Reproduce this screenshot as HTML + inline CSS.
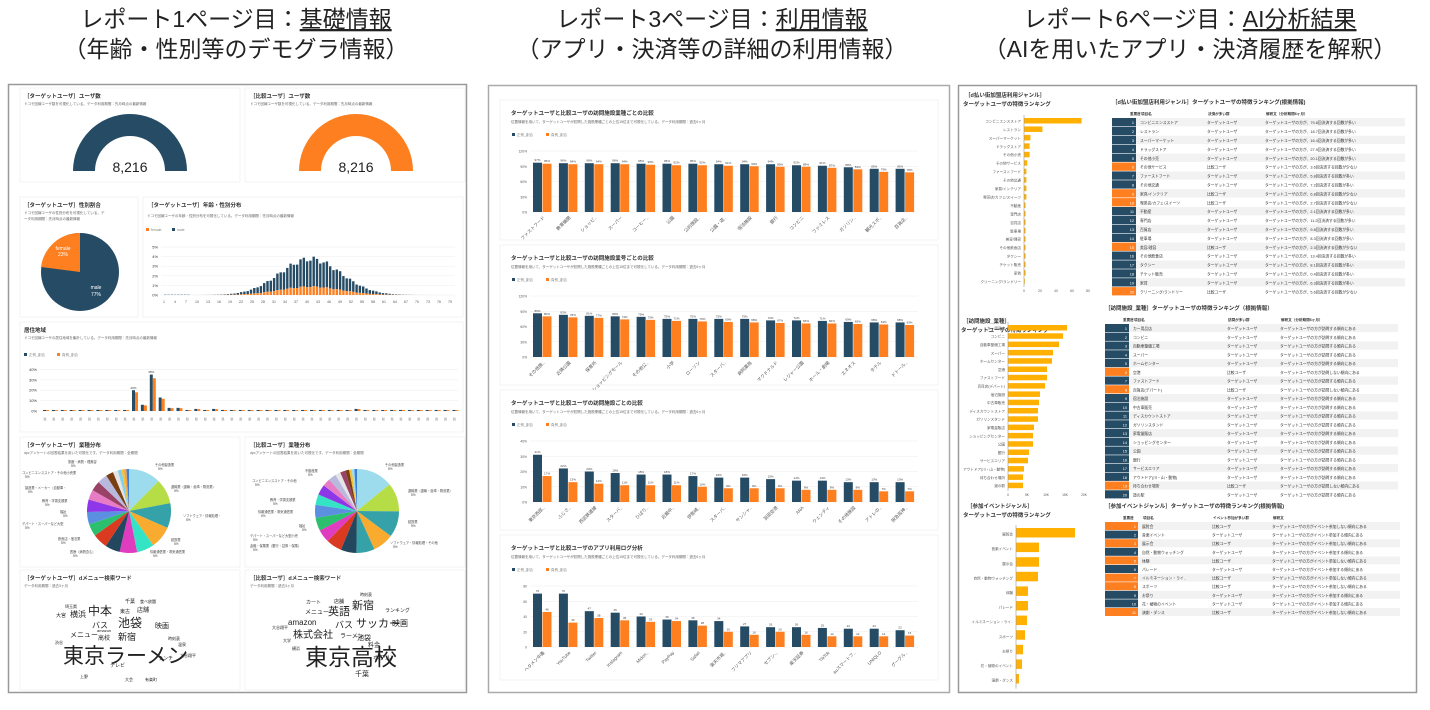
<!DOCTYPE html>
<html><head><meta charset="utf-8">
<style>
body{margin:0;background:#fff;width:1430px;height:705px;overflow:hidden;font-family:"Liberation Sans","Noto Sans CJK JP",sans-serif}
svg text{font-family:"Liberation Sans","Noto Sans CJK JP",sans-serif}
</style></head><body>
<svg id="s" width="1430" height="705" xmlns="http://www.w3.org/2000/svg">
<g font-size="23" fill="#222" text-anchor="middle">
<text x="236" y="27">レポート1ページ目：<tspan text-decoration="underline">基礎情報</tspan></text>
<text x="236" y="57">（年齢・性別等のデモグラ情報）</text>
<text x="712" y="27">レポート3ページ目：<tspan text-decoration="underline">利用情報</tspan></text>
<text x="712" y="57">（アプリ・決済等の詳細の利用情報）</text>
<text x="1190" y="27">レポート6ページ目：<tspan text-decoration="underline">AI分析結果</tspan></text>
<text x="1190" y="57">（AIを用いたアプリ・決済履歴を解釈）</text>
</g>
<rect x="8.5" y="84.5" width="458" height="608" fill="#fff" stroke="#999" stroke-width="1.5"/>
<rect x="488.5" y="85.5" width="461" height="607" fill="#fff" stroke="#aaa" stroke-width="1.5"/>
<rect x="958.5" y="85.5" width="458" height="607" fill="#fff" stroke="#999" stroke-width="1.5"/>
<g id="g"></g>
</svg>
<script>
var g=document.getElementById('g'),h='';
var N='#264b65',O='#fd7f20',Y='#ffb000';
function r(x,y,w,hh,c,st){h+='<rect x="'+x+'" y="'+y+'" width="'+w+'" height="'+hh+'" fill="'+c+'"'+(st?' stroke="'+st+'" stroke-width="0.7"':'')+'/>';}
function t(x,y,s,sz,c,a,b){h+='<text x="'+x+'" y="'+y+'" font-size="'+sz+'" fill="'+(c||'#333')+'"'+(a?' text-anchor="'+a+'"':'')+(b?' font-weight="bold"':'')+'>'+s+'</text>';}
[[20,88,220,94],[245,88,220,94],[20,197,118,120],[143,197,320,120],[20,322,443,110],[20,437,220,130],[245,437,220,130],[20,570,220,120],[245,570,220,120]].forEach(function(c){r(c[0],c[1],c[2],c[3],'#fff','#eee');});
t(24,98,'［ターゲットユーザ］ユーザ数',5.5,'#333',0,1);t(250,98,'［比較ユーザ］ユーザ数',5.5,'#333',0,1);
t(24,105,'ドコモ回線ユーザ数を可視化している。データ利用期間：先月時点の最新情報',3.5,'#666');t(250,105,'ドコモ回線ユーザ数を可視化している。データ利用期間：先月時点の最新情報',3.5,'#666');
function gauge(cx,cy,c){h+='<path d="M'+(cx-57)+' '+cy+' A57 57 0 0 1 '+(cx+57)+' '+cy+' L'+(cx+35)+' '+cy+' A35 35 0 0 0 '+(cx-35)+' '+cy+'Z" fill="'+c+'"/>';}
gauge(130,171,N);gauge(356,171,O);
t(130,172,'8,216',14,'#222','middle');t(356,172,'8,216',14,'#222','middle');
t(24,207,'［ターゲットユーザ］性別割合',5.5,'#333',0,1);t(24,214,'ドコモ回線ユーザの性別分布を可視化している。デ',3.5,'#666');t(24,220,'ータ利用期間：先月時点の最新情報',3.5,'#666');
h+='<circle cx="80" cy="272" r="39" fill="'+N+'"/><path d="M80 272 L80 233 A39 39 0 0 0 41 267Z" fill="'+O+'"/>';
t(63,250,'female',5,'#fff','middle');t(63,256,'23%',5,'#fff','middle');t(96,289,'male',5,'#fff','middle');t(96,296,'77%',5,'#fff','middle');
t(148,207,'［ターゲットユーザ］年齢・性別分布',5.5,'#333',0,1);t(147,217,'ドコモ回線ユーザの年齢・性別分布を可視化している。データ利用期間：先月時点の最新情報',3.5,'#666');
r(146,228,3,3,O);t(151,231,'female',3.5,'#888');r(172,228,3,3,N);t(177,231,'male',3.5,'#888');
for(var i=0;i<6;i++){var yy=295-i*9.6;h+='<line x1="161" x2="455" y1="'+yy+'" y2="'+yy+'" stroke="#eee" stroke-width="0.5"/>';t(158,yy+1.5,i+'%',4,'#333','end');}
for(var i=0;i<88;i++){var x=164+i*3.3,m=Math.exp(-Math.pow((i-44)/13,2))*36*(1+0.08*Math.sin(i*1.7)),f=m*0.23;if(i<8)m=0.3;r(x,295-m,2.4,m-f,N);r(x,295-f,2.4,f,O);}
for(var i=0;i<27;i++)t(164+i*11,303,String(1+i*3),3.5,'#555','middle');
t(24,332,'居住地域',5.5,'#333',0,1);t(24,339,'ドコモ回線ユーザの居住地域を集計している。データ利用期間：先月時点の最新情報',3.5,'#666');
r(24,353,3,3,N);t(29,356,'正例_割合',3.5,'#888');r(57,353,3,3,O);t(62,356,'負例_割合',3.5,'#888');
for(var i=0;i<5;i++){var yy=411-i*10.4;h+='<line x1="40" x2="458" y1="'+yy+'" y2="'+yy+'" stroke="#eee" stroke-width="0.5"/>';t(37,yy+1.5,(i*10)+'%',4,'#333','end');}
var rv=[1,1,1,1,1,1,1,1,1,1,20,6,35,13,3,3,1,2,1,2,1,1,1,1,1,1,1,1,1,1,1,1,1,1,1,2,1,1,1,1,1,1,1,1,1,1,1];
rv.forEach(function(v,i){var x=43+i*8.9;r(x,411-v*1.04,3,v*1.04,N);r(x+3,411-v*0.9*1.04,3,v*0.9*1.04,O);});
t(44.5+10*8.9,411-22,'20%',3,'#333','middle');t(44.5+12*8.9,411-38,'35%',3,'#333','middle');
for(var i=0;i<47;i++)t(45+i*8.9,420,'県',3,'#777','middle');
function pie(cx,cy,R,vals,cols){var a=-Math.PI/2,s=vals.reduce(function(p,q){return p+q},0);vals.forEach(function(v,i){var b=a+v/s*2*Math.PI;h+='<path d="M'+cx+' '+cy+' L'+(cx+R*Math.cos(a))+' '+(cy+R*Math.sin(a))+' A'+R+' '+R+' 0 '+((b-a)>Math.PI?1:0)+' 1 '+(cx+R*Math.cos(b))+' '+(cy+R*Math.sin(b))+'Z" fill="'+cols[i%cols.length]+'"/>';a=b;});}
var pc=['#9ddcec','#b6dd45','#35a1a8','#f9ab2f','#35e4c4','#e03cbf','#23475e','#d93a20','#2bbf6e','#5b8fe0','#8d37e8','#e77bc4','#9a4266','#b9b9dd','#7a3e13','#e5e5e5','#7ed0f0','#f2c230','#f0a050','#3a7fd9'];
t(24,447,'［ターゲットユーザ］業種分布',5.5,'#333',0,1);t(24,454,'dpcアンケートの回答結果を用いた可視化です。データ利用期間：全期間',3.5,'#666');
pie(129,511,42,[13,10,10,9,7,7,6,6,5,5,5,4,4,4,3,2,1.5,1,1,1],pc);
t(250,447,'［比較ユーザ］業種分布',5.5,'#333',0,1);t(250,454,'dpcアンケートの回答結果を用いた可視化です。データ利用期間：全期間',3.5,'#666');
pie(357,511,42,[14,11,10,8,7,6,6,5,5,5,4,4,3,3,2,2,1.5,1,1,1],pc.slice(0,3).concat(['#f9ab2f','#35a1a8','#23475e','#d93a20','#e03cbf','#2bbf6e','#5b8fe0','#35e4c4','#8d37e8','#e77bc4','#b9b9dd','#e5e5e5','#9a4266','#7a3e13','#f2c230','#9ddcec','#3a7fd9']));
[['その他製造業',155,466],['運輸業（運輸・倉庫・物流業）',171,488],['ソフトウェア・情報処理・',183,517],['建設業',171,541],['情報通信業・電気通信業',150,553],['医療（病院含む）',70,553],['飲食店・宿泊業',58,540],['デパート・スーパーなど大型',22,525],['福祉',60,513],['教育・学習支援業',42,502],['製造業・メーカー（自動車・',25,489],['コンビニエンスストア・その他小売業',22,474],['旅館・病院・理美容',68,463]].forEach(function(a){t(a[1],a[2],a[0],3.2,'#444');t(a[1]+3,a[2]+4,'5%',3.2,'#444');});
[['その他製造業',385,466],['運輸業（運輸・倉庫・物流業）',408,492],['建設業',408,523],['ソフトウェア・情報処理・その他',390,544],['金融・保険業（銀行・証券・保険）',250,547],['デパート・スーパーなど大型小売',250,537],['福祉',299,527],['情報通信業・電気通信業',258,513],['教育・学習支援業',270,501],['コンビニエンスストア・その他',252,482],['不動産業',305,472]].forEach(function(a){t(a[1],a[2],a[0],3.2,'#444');t(a[1]+3,a[2]+4,'5%',3.2,'#444');});
t(24,580,'［ターゲットユーザ］dメニュー検索ワード',5.5,'#333',0,1);t(24,587,'データ利用期間：過去3ヶ月',3.5,'#666');
t(250,580,'［比較ユーザ］dメニュー検索ワード',5.5,'#333',0,1);t(250,587,'データ利用期間：過去3ヶ月',3.5,'#666');
[['東京ラーメン',63,663,21],['池袋',118,627,12],['中本',88,615,12],['新宿',118,640,9],['横浜',70,617,8],['バス',92,628,8],['映画',155,628,7],['店舗',137,612,6],['高校',98,640,6],['メニュー',70,637,7],['東古',120,613,5],['千葉',125,603,5],['食べ放題',140,603,4],['大宮',56,617,5],['渋谷',55,644,4],['時刻表',168,640,4],['温泉',178,646,4],['ランチ',158,660,5],['テレビ',110,667,5],['大谷翔平',180,657,4],['上野',80,678,4],['大会',125,681,4],['有楽町',145,681,4],['埼玉県',65,608,4],['amazon',97,632,4]].forEach(function(a){t(a[1],a[2],a[0],a[3],'#222');});
[['東京高校',305,665,23],['サッカー',356,627,11],['英語',328,615,11],['新宿',352,609,11],['株式会社',293,638,10],['amazon',288,625,8],['映画',392,626,8],['バス',335,628,9],['池袋',357,640,7],['ラーメン',340,638,6],['カート',306,604,5],['千葉',355,676,7],['メニュー',305,614,6],['店舗',334,603,5],['ホテル',373,660,6],['料金',368,647,6],['時刻表',360,596,4],['ランキング',385,612,5],['大谷翔平',272,629,4],['大学',283,642,4],['横浜',292,650,4]].forEach(function(a){t(a[1],a[2],a[0],a[3],'#222');});
var lb1=['ファストフード','教育機関','ショッピ..','スーパー','コーヒー..','公園','公的施設..','公園・遊..','宿泊施設','銀行','コンビニ','ファミレス','ガソリン..','観光スポ..','百貨店..'];
var lb2=['その他施..','近隣公園','保育所','ショッピングモール','その他公..','小学','ローソン','スターバ..','病院薬局','マクドナルド','レジャー公園','ホール・劇場','エネオス','ホテル','ドトール..'];
var lb3=['東京西部..','ふじさ..','西武鉄道線','スターバ..','ひばり..','近畿中..','伊勢崎..','スターバ..','サンシャ..','羽田空港','ANA','ウェンディ','その他施設','アトレの..','阪急阪神..'];
var lb4=['ヘタメン中毒','YouTube','Twitter','Instagram','Midori..','PayPay','Safari','楽天市場..','フリマアプリ','セブン-..','楽天証券','TikTok','auスマートフ..','UNIQLO','グーグル..'];
var C=[[100,'ターゲットユーザと比較ユーザの訪問施設業種ごとの比較',[97,96,96,96,95,95,95,94,94,94,92,91,88,85,85],[95,94,94,94,93,92,92,91,90,89,89,87,84,79,78],lb1,120],
[245,'ターゲットユーザと比較ユーザの訪問施設業号ごとの比較',[86,83,81,80,79,75,75,75,75,72,72,71,69,68,68],[80,78,77,74,73,71,70,69,68,67,66,66,65,64,63],lb2,120],
[390,'ターゲットユーザと比較ユーザの訪問施設ごとの比較',[31,22,20,19,18,18,17,16,16,15,14,14,13,13,13],[17,13,12,11,11,11,10,9,9,9,8,8,8,7,7],lb3,40],
[535,'ターゲットユーザと比較ユーザのアプリ利用ログ分析',[70,70,47,45,40,36,35,34,27,26,26,25,24,24,22],[46,32,38,35,33,34,28,20,16,20,16,14,14,14,15],lb4,80]];
C.forEach(function(c){var y0=c[0],mx=c[5],lb=c[4];r(500,y0,438,y0==535?145:140,'#fff','#eee');t(511,y0+15,c[1],5.5,'#333',0,1);t(511,y0+23,'位置情報を用いて、ターゲットユーザが訪問した施設業種ごとの上位15位まで可視化している。データ利用期間：過去6ヶ月',3.5,'#666');
r(512,y0+33,3,3,N);t(517,y0+36,'正例_割合',3.5,'#888');r(546,y0+33,3,3,O);t(551,y0+36,'負例_割合',3.5,'#888');
var base=y0+112,H=61;for(var i=0;i<=4;i++){var yy=base-i*H/4;h+='<line x1="530" x2="918" y1="'+yy+'" y2="'+yy+'" stroke="#eee" stroke-width="0.5"/>';t(527,yy+1.5,Math.round(mx*i/4)+(mx==80?'':'%'),3.3,'#555','end');}
for(var i=0;i<15;i++){var x=533+i*25.9,a=c[2][i]*H/mx,b=c[3][i]*H/mx;r(x,base-a,9,a,N);r(x+9.5,base-b,9,b,O);t(x+4.5,base-a-1.5,c[2][i]+(mx==80?'':'%'),3,'#444','middle');t(x+14,base-b-1.5,c[3][i]+(mx==80?'':'%'),3,'#444','middle');
h+='<text x="'+(x+12)+'" y="'+(base+6)+'" font-size="4.5" fill="#555" text-anchor="end" transform="rotate(-45 '+(x+12)+' '+(base+6)+')">'+lb[i]+'</text>';}});
function hbar(x0,y0,pitch,labs,vals,scale,bh){labs.forEach(function(l,i){var y=y0+i*pitch;t(x0-3,y+bh*0.8,l,3.6,'#555','end');r(x0,y,vals[i]*scale,bh,Y);});h+='<line x1="'+x0+'" x2="'+x0+'" y1="'+(y0-3)+'" y2="'+(y0+labs.length*pitch)+'" stroke="#999" stroke-width="0.6"/>';}
t(965,97,'［d払い街加盟店利用ジャンル］',5.5,'#333',0,1);t(963,106,'ターゲットユーザの特徴ランキング',5.5,'#333',0,1);
var L1=['コンビニエンスストア','レストラン','スーパーマーケット','ドラッグストア','その他小売','その他サービス','ファーストフード','その他交通','家具/インテリア','喫茶店/カフェ/スイーツ','不動産','専門店','百貨店','駐車場','美容/理容','その他飲食店','タクシー','チケット販売','家賃','クリーニング/ランドリー'];
hbar(1024,118,8.45,L1,[72,23,8,7,7,4,3,3,3,3,2,2,2,2,2,2,2,2,2,1],0.8,5.5);
['0','20','40','60','80'].forEach(function(s,i){t(1024+i*16,292,s,3.3,'#555','middle');});
t(963,323,'［訪問施設_業種］',5.5,'#333',0,1);t(961,332,'ターゲットユーザの特徴ランキング',5.5,'#333',0,1);
var L2=['カー用品店','コンビニ','自動車整備工場','スーパー','ホームセンター','空港','ファストフード','百貨店(デパート)','宿泊施設','中古車販売','ディスカウントストア','ガソリンスタンド','家電量販店','ショッピングセンター','公園','銀行','サービスエリア','アウトドア(川・山・動物)','待ち合わせ場所','道の駅'];
hbar(1008,325,8.3,L2,[59,55,51,45,44,39,39,37,32,31,30,30,26,25,25,21,20,16,15,15],1,5.5);
['0','5K','10K','15K','20K'].forEach(function(s,i){t(1008+i*19,496,s,3.3,'#555','middle');});
t(967,508,'［参加イベントジャンル］',5.5,'#333',0,1);t(963,517,'ターゲットユーザの特徴ランキング',5.5,'#333',0,1);
var L3=['展覧会','音楽イベント','展示会','自然・動物ウォッチング','体験','パレード','イルミネーション・ライ..','スポーツ','お祭り','花・植物のイベント','演劇・ダンス'];
hbar(1016,528,14.6,L3,[59,23,23,22,12,12,11,9,7,6,3],1,9.5);
function table(x,y0,cols,hd,rows,pitch,tl){t(x,y0-10,tl,5.5,'#333',0,1);var w=cols[cols.length-1]-x;r(x,y0-4,w,7,'#fff');hd.forEach(function(s,j){t(cols[j]+(j==0?18:3),y0+1,s,3.6,'#333',0,1);});
rows.forEach(function(rw,i){var y=y0+4+i*pitch;r(x,y,w,pitch-0.6,i%2?'#fff':'#f2f2f2');r(x,y,cols[1]-x-2,pitch-0.6,rw[2]=='比較ユーザ'?O:N);t(cols[1]-4,y+pitch*0.7,String(i+1),3.8,'#fff','end');t(cols[1]+2,y+pitch*0.7,rw[0],3.8,'#333');t(cols[2]+2,y+pitch*0.7,rw[2],3.8,'#333');t(cols[3]+2,y+pitch*0.7,rw[1],3.8,'#333');});}
var T=function(l,c,s){return l.map(function(n,i){var cmp=c.indexOf(i+1)>=0;return [n,s(cmp,i),cmp?'比較ユーザ':'ターゲットユーザ'];});};
var nums=[79.8,18.7,16.4,27.9,20.1,3.6,5.8,7.2,6.8,2.7,2.1,11.2,9.8,8.3,2.3,13.4,8.1,0.4,6.3,5.6];
table(1112,114,[1112,1138,1205,1263,1405],['重要度','項目名','決済が多い群','解釈文（分析期間6ヶ月）'],T(L1,[6,9,10,15,20],function(c,i){return 'ターゲットユーザの方が、'+nums[i]+'回決済する回数が'+(c?'少ない':'多い');}),8.9,'［d払い街加盟店利用ジャンル］ターゲットユーザの特徴ランキング(根拠情報)');
table(1105,320,[1105,1131,1225,1278,1398],['重要度','項目名','訪問が多い群','解釈文（分析期間6ヶ月）'],T(L2,[6,8,19],function(c){return 'ターゲットユーザの方が訪問'+(c?'しない':'する')+'傾向にある';}),8.75,'［訪問施設_業種］ターゲットユーザの特徴ランキング（根拠情報）');
table(1105,518,[1105,1140,1210,1270,1400],['重要度','項目名','イベント参加が多い群','解釈文'],T(L3,[1,3,5,7,8,11],function(c){return 'ターゲットユーザの方がイベント参加'+(c?'しない':'する')+'傾向にある';}),8.6,'［参加イベントジャンル］ターゲットユーザの特徴ランキング(根拠情報)');
g.innerHTML=h;
</script>
</body></html>
